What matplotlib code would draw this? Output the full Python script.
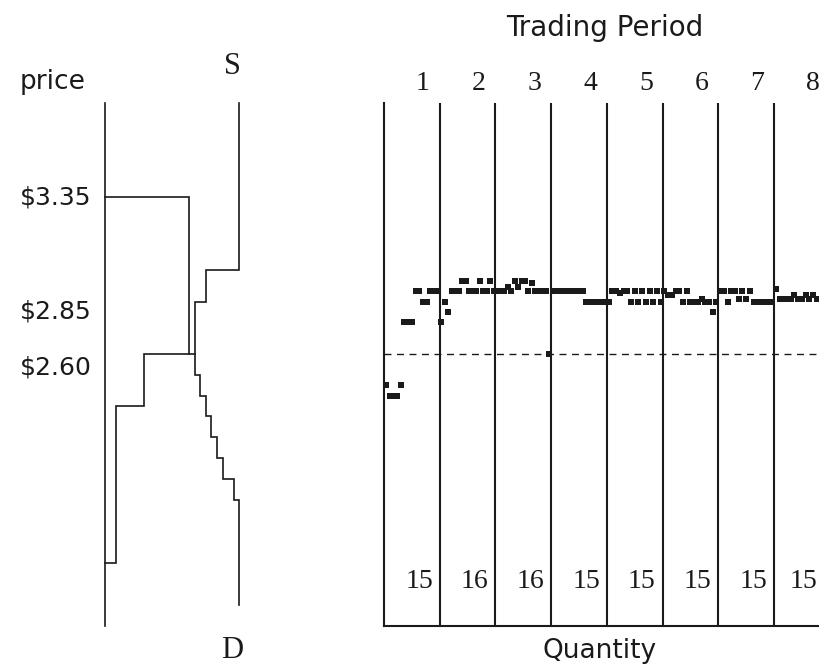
import matplotlib
matplotlib.use("Agg")
import matplotlib.pyplot as plt

W, H = 819, 667
DPI = 100

# ---------------- data ----------------
# left panel: step curves (quantity, price)
upper_q = [24, 24, 18, 18, 16, 16, 17, 17, 18, 18, 19, 19, 20, 20, 21, 21, 23, 23, 24, 24]
upper_p = [3.80, 3.00, 3.00, 2.85, 2.85, 2.50, 2.50, 2.40, 2.40, 2.30, 2.30, 2.20, 2.20,
           2.10, 2.10, 2.00, 2.00, 1.90, 1.90, 1.40]
lower_q = [0, 2, 2, 7, 7, 16]
lower_p = [1.60, 1.60, 2.35, 2.35, 2.60, 2.60]
top_q = [0, 15, 15]
top_p = [3.35, 3.35, 2.60]

price_labels = ["$3.35", "$2.85", "$2.60"]
equilibrium_price = 2.60

periods = [1, 2, 3, 4, 5, 6, 7, 8]
quantities = [15, 16, 16, 15, 15, 15, 15, 15]

trades = [
    [2.45, 2.40, 2.40, 2.40, 2.45, 2.75, 2.75, 2.75, 2.90, 2.90, 2.85, 2.85, 2.90, 2.90, 2.90],
    [2.75, 2.85, 2.80, 2.90, 2.90, 2.90, 2.95, 2.95, 2.90, 2.90, 2.90, 2.95, 2.90, 2.90, 2.95, 2.90],
    [2.90, 2.90, 2.90, 2.92, 2.90, 2.95, 2.92, 2.95, 2.95, 2.90, 2.94, 2.90, 2.90, 2.90, 2.90, 2.60],
    [2.90, 2.90, 2.90, 2.90, 2.90, 2.90, 2.90, 2.90, 2.90, 2.85, 2.85, 2.85, 2.85, 2.85, 2.85],
    [2.85, 2.90, 2.90, 2.89, 2.90, 2.90, 2.85, 2.90, 2.85, 2.90, 2.85, 2.90, 2.85, 2.90, 2.85],
    [2.90, 2.88, 2.88, 2.90, 2.90, 2.85, 2.90, 2.85, 2.85, 2.85, 2.86, 2.85, 2.85, 2.80, 2.85],
    [2.90, 2.90, 2.85, 2.90, 2.90, 2.86, 2.90, 2.86, 2.90, 2.85, 2.85, 2.85, 2.85, 2.85, 2.85],
    [2.91, 2.86, 2.86, 2.86, 2.86, 2.88, 2.86, 2.86, 2.88, 2.86, 2.88, 2.86, 2.86, 2.86, 2.86],
]

# ---------------- figure ----------------
fig = plt.figure(figsize=(W / DPI, H / DPI), dpi=DPI)
fig.patch.set_facecolor("white")

YLIM = (1.2974, 3.80)
ax_bottom = (H - 626) / H
ax_height = (626 - 103) / H
LW = 1.2
col = "#1a1a1a"

# left panel
axL = fig.add_axes([105 / W, ax_bottom, 155 / W, ax_height])
axL.set_xlim(0, 155 / 5.6)
axL.set_ylim(*YLIM)
for qs, ps in [(upper_q, upper_p), (lower_q, lower_p), (top_q, top_p)]:
    axL.plot(qs, ps, color=col, lw=LW, solid_joinstyle="miter", clip_on=False)
for s in ["top", "right", "bottom"]:
    axL.spines[s].set_visible(False)
axL.spines["left"].set_linewidth(LW)
axL.spines["left"].set_color(col)
axL.set_xticks([])
axL.set_yticks([])
axL.patch.set_alpha(0)

# right panel
axR = fig.add_axes([384 / W, ax_bottom, (W - 384) / W, ax_height])
axR.set_xlim(0, (W - 384) / 55.71)
axR.set_ylim(*YLIM)
for s in ["top", "right"]:
    axR.spines[s].set_visible(False)
for s in ["left", "bottom"]:
    axR.spines[s].set_linewidth(1.5)
    axR.spines[s].set_color(col)
axR.set_xticks([])
axR.set_yticks([])
for k in periods[:-1]:
    axR.axvline(k, color=col, lw=1.5)
axR.axhline(equilibrium_price, color=col, lw=1.0, ls=(0, (5, 4)))

for k, prices in enumerate(trades):
    n = len(prices)
    xs = [k + (i + 0.5) / n for i in range(n)]
    axR.plot(xs, prices, ls="none", marker="s", ms=4.0, mfc=col, mec=col, mew=0)

serif = ["Liberation Serif", "DejaVu Serif"]
sans = ["DejaVu Sans"]

for k, (p, q) in enumerate(zip(periods, quantities)):
    xpix = 384 + (k + 0.7) * 55.71
    fig.text(xpix / W, 1 - 84 / H, str(p), ha="center", va="center",
             fontsize=20, family=serif, color=col)
    fig.text(min(xpix - 4, W - 16) / W, 1 - 582 / H, str(q), ha="center", va="center",
             fontsize=20, family=serif, color=col)

fig.text(605 / W, 1 - 28 / H, "Trading Period", ha="center", va="center",
         fontsize=20, family=sans, color=col)
fig.text(600 / W, 1 - 651 / H, "Quantity", ha="center", va="center",
         fontsize=19, family=sans, color=col)
fig.text(53 / W, 1 - 82 / H, "price", ha="center", va="center",
         fontsize=19, family=sans, color=col)
fig.text(232 / W, 1 - 66 / H, "S", ha="center", va="center",
         fontsize=22, family=serif, color=col)
fig.text(232 / W, 1 - 650 / H, "D", ha="center", va="center",
         fontsize=22, family=serif, color=col)
for lab, ypix in zip(price_labels, [197, 311, 367]):
    fig.text(56 / W, 1 - ypix / H, lab, ha="center", va="center",
             fontsize=18, family=sans, color=col)

fig.savefig("out.png", dpi=DPI, facecolor="white")
